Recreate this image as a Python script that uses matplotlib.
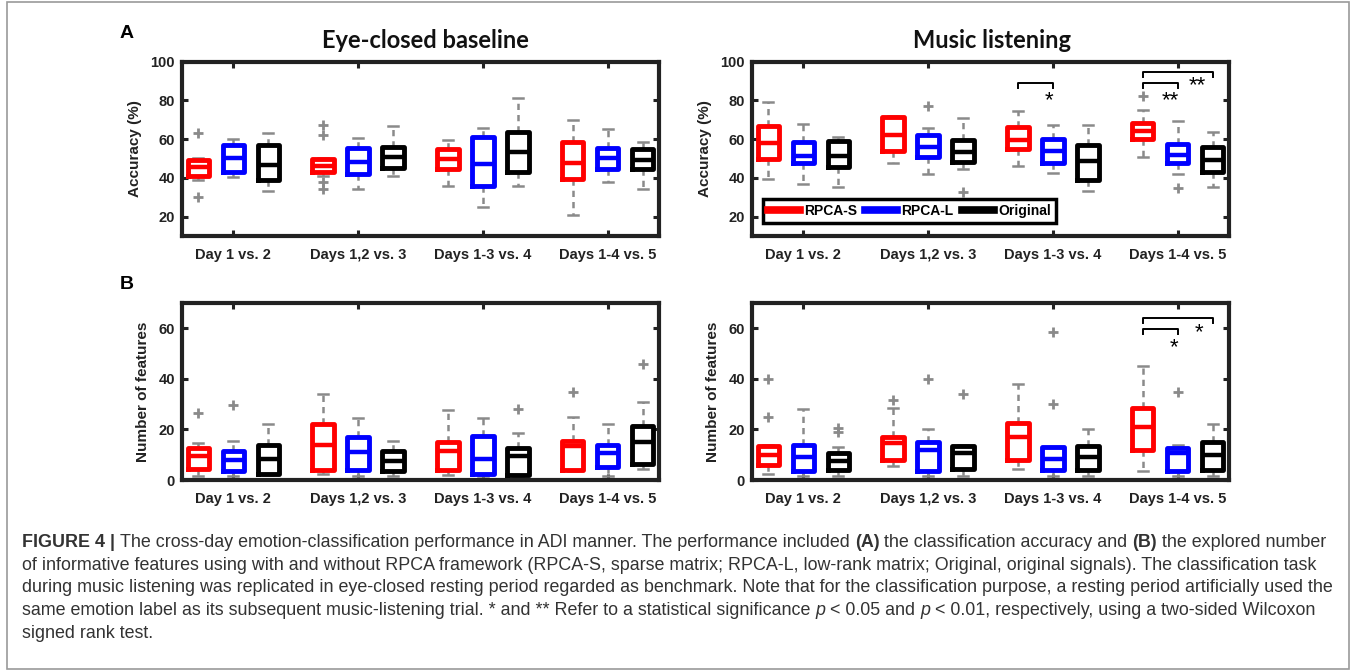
import matplotlib
matplotlib.use("Agg")

import matplotlib.pyplot as plt
from matplotlib.lines import Line2D
from matplotlib.patches import Rectangle

# --- Data -------------------------------------------------------------------
COMPARISONS = ["Day 1 vs. 2", "Days 1,2 vs. 3", "Days 1-3 vs. 4", "Days 1-4 vs. 5"]
METHODS = ["RPCA-S", "RPCA-L", "Original"]
COLORS = ["#ff0000", "#0000ff", "#000000"]

# each box: (whisker low, q1, median, q3, whisker high)
eye_acc_s = [(39, 41, 45.5, 49, 50), (41, 43, 46, 49.5, 50), (36, 44.5, 49.5, 55, 59.5), (21, 39.5, 47.5, 58.5, 70)]
eye_acc_l = [(40.5, 43, 50, 57, 60), (34, 42, 48, 55.5, 60.5), (25, 36, 47, 61, 65.5), (38, 44.5, 50, 55.5, 65)]
eye_acc_o = [(33, 39, 46.5, 57, 63), (41, 45, 51, 56, 66.5), (36, 43, 53.5, 63.5, 81), (34, 44.5, 49, 55, 58.5)]
eye_acc_s_out = [[63, 30], [67, 62, 38, 34], [], []]
eye_acc_l_out = [[], [], [], []]
eye_acc_o_out = [[], [], [], []]

mus_acc_s = [(39.5, 49.5, 58, 66.5, 79), (47.5, 54, 62, 71.5, 72), (46, 55, 59.5, 66, 74.5), (51, 60, 64, 68.5, 75)]
mus_acc_l = [(37, 47.5, 51.5, 58.5, 68), (42, 51, 56, 62, 65.5), (42.5, 47.5, 54, 60, 67), (42, 47.5, 52, 57.5, 69.5)]
mus_acc_o = [(35.5, 45.5, 51.5, 59, 61), (44.5, 48, 53.5, 59.5, 71), (33, 39, 48.5, 57, 67), (35.5, 43, 49, 56, 63.5)]
mus_acc_s_out = [[], [], [], [82]]
mus_acc_l_out = [[], [77], [], [35]]
mus_acc_o_out = [[], [32.5], [], []]

eye_feat_s = [(1.5, 4.5, 9.5, 12.5, 14.5), (2.5, 4, 14, 22, 34), (2, 4, 11.5, 15, 27.5), (3.5, 4, 13.5, 15.5, 25)]
eye_feat_l = [(1.5, 3.5, 8, 11.5, 15.5), (1.5, 4, 11, 17, 24.5), (1.5, 2.5, 8.5, 17.5, 24.5), (1.5, 5, 10.5, 14, 22)]
eye_feat_o = [(2, 2.5, 8.5, 14, 22), (1.5, 3.5, 7.5, 11.5, 15.5), (1.5, 2, 9.5, 12.5, 18.5), (4.5, 6.5, 15, 21.5, 31)]
eye_feat_s_out = [[26.5], [], [], [35]]
eye_feat_l_out = [[29.5], [], [], []]
eye_feat_o_out = [[], [], [28], [46]]

mus_feat_s = [(2.5, 6, 10, 13.5, 14), (5.5, 8, 14.5, 17, 28.5), (4.5, 8, 17, 22.5, 38), (3.5, 12, 21, 28.5, 45)]
mus_feat_l = [(1.5, 3.5, 9, 14, 28), (1.5, 3.5, 12, 15, 20), (1.5, 4, 8.5, 13, 13), (1.5, 3.5, 10.5, 12.5, 14)]
mus_feat_o = [(1.5, 4, 7.5, 10.5, 13), (1.5, 4.5, 10.5, 13.5, 14), (1.5, 4, 9, 13.5, 20), (1.5, 4, 10, 15, 22)]
mus_feat_s_out = [[40, 25], [31.5], [], []]
mus_feat_l_out = [[], [40], [58.5, 30], [35]]
mus_feat_o_out = [[20.5, 19], [34], [], []]

# significance: (comparison index, method a, method b, bracket top, label, label x shift, label y)
mus_acc_sig = [(2, 0, 1, 89, "*", -0.03, 79.7), (3, 0, 1, 89, "**", -0.06, 79.7), (3, 0, 2, 94.7, "**", 0.16, 87.6)]
mus_feat_sig = [(3, 0, 1, 59.6, "*", -0.03, 52.4), (3, 0, 2, 64.2, "*", 0.17, 58.4)]

# --- Layout ------------------------------------------------------------------
W, H = 1358, 672
OFFSETS = [-0.28, 0.0, 0.28]
GRAY = "#8a8a8a"
FONT = "Liberation Sans"

fig = plt.figure(figsize=(W / 100, H / 100), dpi=100)


def px_axes(x0, y0, x1, y1):
    return fig.add_axes([x0 / W, 1 - y1 / H, (x1 - x0) / W, (y1 - y0) / H])


def draw_panel(ax, boxes, outliers, ylim, yticks, ylabel):
    for m in range(3):
        stats = []
        for (lo, q1, med, q3, hi), out in zip(boxes[m], outliers[m]):
            stats.append(dict(whislo=lo, q1=q1, med=med, q3=q3, whishi=hi, fliers=out))
        pos = [g + 1 + OFFSETS[m] for g in range(4)]
        ax.bxp(stats, positions=pos, widths=0.17, capwidths=0.08, manage_ticks=False,
               boxprops=dict(color=COLORS[m], lw=3.5, zorder=3),
               medianprops=dict(color=COLORS[m], lw=3.2, zorder=3),
               whiskerprops=dict(color=GRAY, lw=1.8, ls=(0, (2.5, 2))),
               capprops=dict(color=GRAY, lw=1.8),
               flierprops=dict(marker="+", markeredgecolor=GRAY, markersize=7, mew=2))
    ax.set_xlim(0.59, 4.41)
    ax.set_ylim(*ylim)
    ax.set_xticks(range(1, 5))
    ax.set_xticklabels(COMPARISONS)
    ax.set_yticks(yticks)
    ax.tick_params(direction="in", length=4, width=2.2, top=True, right=True,
                   labelsize=10.5, colors="#222222")
    ax.tick_params(axis="x", pad=9)
    ax.tick_params(axis="y", pad=5)
    for lab in ax.get_xticklabels() + ax.get_yticklabels():
        lab.set_fontweight("bold")
        lab.set_family(FONT)
    for sp in ax.spines.values():
        sp.set_linewidth(3)
        sp.set_color("#222222")
    ax.set_ylabel(ylabel, fontsize=11, fontweight="bold", family=FONT, color="#222222", labelpad=6)


def draw_sig(ax, sigs, leg):
    for g, a, b, top, label, dx, ly in sigs:
        x1, x2 = g + 1 + OFFSETS[a], g + 1 + OFFSETS[b]
        ax.plot([x1, x1, x2, x2], [top - leg, top, top, top - leg], color="k", lw=1.4)
        ax.text(g + 1 + dx, ly, label, ha="center", va="center", fontsize=16, family=FONT)


ax_a1 = px_axes(182, 61.5, 659, 236)
ax_a2 = px_axes(752, 61.5, 1229, 236)
ax_b1 = px_axes(182, 303, 659, 480)
ax_b2 = px_axes(752, 303, 1229, 480)

draw_panel(ax_a1, [eye_acc_s, eye_acc_l, eye_acc_o], [eye_acc_s_out, eye_acc_l_out, eye_acc_o_out],
           (10, 100), [20, 40, 60, 80, 100], "Accuracy (%)")
draw_panel(ax_a2, [mus_acc_s, mus_acc_l, mus_acc_o], [mus_acc_s_out, mus_acc_l_out, mus_acc_o_out],
           (10, 100), [20, 40, 60, 80, 100], "Accuracy (%)")
draw_panel(ax_b1, [eye_feat_s, eye_feat_l, eye_feat_o], [eye_feat_s_out, eye_feat_l_out, eye_feat_o_out],
           (0, 70), [0, 20, 40, 60], "Number of features")
draw_panel(ax_b2, [mus_feat_s, mus_feat_l, mus_feat_o], [mus_feat_s_out, mus_feat_l_out, mus_feat_o_out],
           (0, 70), [0, 20, 40, 60], "Number of features")

draw_sig(ax_a2, mus_acc_sig, 2.8)
draw_sig(ax_b2, mus_feat_sig, 2.0)

handles = [Line2D([], [], color=c, lw=5.5) for c in COLORS]
leg = ax_a2.legend(handles, METHODS, ncol=3, loc="lower left", bbox_to_anchor=(0.023, 0.075),
                   borderaxespad=0, fancybox=False, edgecolor="black", framealpha=1,
                   handlelength=2.3, handletextpad=0.3, columnspacing=0.6, borderpad=0.35,
                   prop=dict(weight="bold", size=10, family=FONT))
leg.get_frame().set_linewidth(2.5)

fig.text(425 / W, 1 - 41 / H, "Eye-closed baseline", ha="center", va="center",
         fontsize=17, fontweight="bold", family="Lato", color="#111111")
fig.text(992 / W, 1 - 41 / H, "Music listening", ha="center", va="center",
         fontsize=17, fontweight="bold", family="Lato", color="#111111")
fig.text(127 / W, 1 - 33 / H, "A", ha="center", va="center", fontsize=14, fontweight="bold", family=FONT)
fig.text(127 / W, 1 - 284 / H, "B", ha="center", va="center", fontsize=14, fontweight="bold", family=FONT)

# outer frame of the figure
fig.patches.append(Rectangle((7 / W, 3 / H), 1342 / W, 667 / H, transform=fig.transFigure,
                             fill=False, edgecolor="#9a9a9a", lw=1.2))

# --- Caption (mixed bold / italic runs) --------------------------------------
CAPTION = [
    [("FIGURE 4 | ", "bold", "normal"), ("The cross-day emotion-classification performance in ADI manner. The performance included ", "normal", "normal"),
     ("(A) ", "bold", "normal"), ("the classification accuracy and ", "normal", "normal"), ("(B) ", "bold", "normal"),
     ("the explored number", "normal", "normal")],
    [("of informative features using with and without RPCA framework (RPCA-S, sparse matrix; RPCA-L, low-rank matrix; Original, original signals). The classification task", "normal", "normal")],
    [("during music listening was replicated in eye-closed resting period regarded as benchmark. Note that for the classification purpose, a resting period artificially used the", "normal", "normal")],
    [("same emotion label as its subsequent music-listening trial. * and ** Refer to a statistical significance ", "normal", "normal"),
     ("p ", "normal", "italic"), ("< 0.05 and ", "normal", "normal"), ("p ", "normal", "italic"),
     ("< 0.01, respectively, using a two-sided Wilcoxon", "normal", "normal")],
    [("signed rank test.", "normal", "normal")],
]
CAP_SIZE = 12.9
renderer = fig.canvas.get_renderer()


def text_width(s, weight, style):
    t = fig.text(0, 0, s, fontsize=CAP_SIZE, fontweight=weight, fontstyle=style, family=FONT)
    w = t.get_window_extent(renderer).width
    t.remove()
    return w


for i, runs in enumerate(CAPTION):
    x = 22.0
    y = 1 - (547 + i * 22.7) / H
    for s, weight, style in runs:
        core = s.rstrip(" ")
        fig.text(x / W, y, core, fontsize=CAP_SIZE, fontweight=weight, fontstyle=style,
                 family=FONT, color="#333333", va="baseline")
        x += text_width(core, weight, style)
        if s.endswith(" "):
            x += text_width("a a", weight, style) - text_width("aa", weight, style)

fig.savefig("out.png", dpi=100)
